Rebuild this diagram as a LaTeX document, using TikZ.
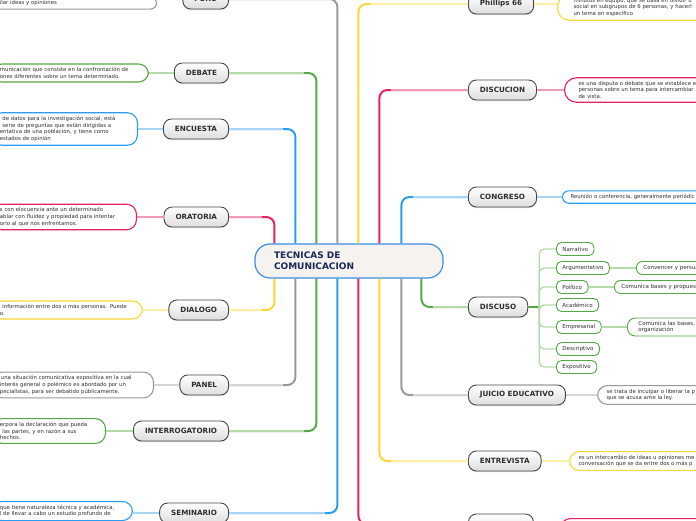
\documentclass[tikz,border=0pt]{standalone}
\usepackage{fontspec}
\setmainfont{DejaVu Sans}
\usetikzlibrary{calc,shadows}
\definecolor{cpink}{HTML}{E4235F}
\definecolor{lpink}{HTML}{F39ABA}
\definecolor{cblue}{HTML}{2A9DF0}
\definecolor{lblue}{HTML}{A8D4F7}
\definecolor{cgreen}{HTML}{55A845}
\definecolor{lgreen}{HTML}{B3DAA8}
\definecolor{cgray}{HTML}{999999}
\definecolor{lgray}{HTML}{D6D6D6}
\definecolor{cyel}{HTML}{FCD734}
\definecolor{lyel}{HTML}{FCEFA6}
\definecolor{navy}{HTML}{1B2A55}
\definecolor{txt}{HTML}{2E2E2E}
\definecolor{cborder}{HTML}{3A8EE0}
\definecolor{cfill}{HTML}{F5F2F0}
\newcommand\tcbranch[7]{%
  \draw[trunk,#4,rounded corners=8pt] ($(c.#1 west)+(#2,0)$) |- (#3.#6);
  \draw[trunk,#5] ($(c.#1 west |- #3.#6)+(#2#7,0)$) -- (#3.#6);
}
\tikzset{
  trunk/.style={line width=2pt},
  twig/.style={line width=1.5pt},
  topic/.style={rounded corners=8pt, draw=black!72, line width=0.9pt,
    top color=white, bottom color=black!13, minimum height=20pt,
    inner xsep=11.5pt, inner ysep=0pt, text=txt,
    font=\fontsize{7.2}{8}\selectfont\bfseries,
    drop shadow={shadow xshift=0pt, shadow yshift=-1pt, opacity=0.3}},
  desc/.style={rounded corners=10pt, fill=white, line width=1.1pt,
    inner ysep=3.5pt, align=left, text=txt,
    font=\fontsize{5.35}{6.7}\selectfont},
  ldesc/.style={desc, anchor=east, inner xsep=8pt},
  rdesc/.style={desc, anchor=west, text width=200pt},
  kid/.style={rounded corners=5pt, draw=cgreen, line width=0.9pt, fill=white,
    inner xsep=6pt, inner ysep=0pt, minimum height=13pt, anchor=west,
    text=txt, font=\fontsize{5.5}{6.7}\selectfont},
}
\begin{document}
\begin{tikzpicture}[x=1pt,y=1pt]
\useasboundingbox (0,0) rectangle (696,-520);
\clip (0,0) rectangle (696,-520);
% central node
\node[rounded corners=15pt, draw=cborder, fill=cfill, line width=1.2pt,
  text width=150pt, inner xsep=19pt, minimum height=34pt, align=left,
  text=navy, font=\fontsize{9}{11}\selectfont\bfseries] (c) at (349,-261)
  {TECNICAS DE\\COMUNICACION};
% left topics
\node[topic, anchor=east] (foro) at (229,1) {FORO};
\node[topic, anchor=east] (debate) at (229,-73) {DEBATE};
\node[topic, anchor=east] (encuesta) at (229,-129) {ENCUESTA};
\node[topic, anchor=east] (oratoria) at (229,-217) {ORATORIA};
\node[topic, anchor=east] (dialogo) at (229,-310) {DIALOGO};
\node[topic, anchor=east] (panel) at (229,-385) {PANEL};
\node[topic, anchor=east] (interrog) at (229,-431) {INTERROGATORIO};
\node[topic, anchor=east] (seminario) at (229,-513) {SEMINARIO};
% right topics
\node[topic, anchor=west] (phillips) at (468,-4) {Phillips 66};
\node[topic, anchor=west] (discucion) at (468,-90) {DISCUCION};
\node[topic, anchor=west] (congreso) at (468,-197) {CONGRESO};
\node[topic, anchor=west] (discuso) at (468,-307) {DISCUSO};
\node[topic, anchor=west] (juicio) at (468,-395) {JUICIO EDUCATIVO};
\node[topic, anchor=west] (entrevista) at (468,-461) {ENTREVISTA};
\node[topic, anchor=west, minimum width=65pt] (ultimo) at (468,-524) {};
% left descriptions
\node[ldesc, draw=cgray, text width=148.5pt, rounded corners=6pt] (foroD) at (157,-3)
  {\mbox{ilar ideas y opiniones}};
\node[ldesc, draw=cgreen, text width=140.5pt] (debateD) at (149,-73)
  {\mbox{municación que consiste en la confrontación de}\\\mbox{ones diferentes sobre un tema determinado.}};
\node[ldesc, draw=cblue, text width=129.5pt] (encuestaD) at (138,-129)
  {\mbox{\hspace{2.5pt}de datos para la investigación social, está}\\\mbox{\hspace{2.5pt}serie de preguntas que están dirigidas a}\\\mbox{entativa de una población, y tiene como}\\\mbox{estados de opinión}};
\node[ldesc, draw=cpink, text width=128.5pt] (oratoriaD) at (137,-217)
  {\mbox{s con elocuencia ante un determinado}\\\mbox{ablar con fluidez y propiedad para intentar}\\\mbox{orio al que nos enfrentamos.}};
\node[ldesc, draw=cyel, text width=134.5pt] (dialogoD) at (143,-310)
  {\mbox{\hspace{2.5pt}información entre dos o más personas. Puede}\\\mbox{o.}};
\node[ldesc, draw=cgray, text width=145.5pt] (panelD) at (154,-385)
  {\mbox{\hspace{1pt}una situación comunicativa expositiva en la cual}\\\mbox{interés general o polémico es abordado por un}\\\mbox{pecialistas, para ser debatido públicamente.}};
\node[ldesc, draw=cgreen, text width=97.5pt] (interrogD) at (106,-431)
  {\mbox{erpora la declaración que pueda}\\\mbox{\hspace{2.5pt}las partes, y en razón a sus}\\\mbox{hechos.}};
\node[ldesc, draw=cblue, text width=124.5pt] (seminarioD) at (133,-511)
  {\mbox{que tiene naturaleza técnica y académica,}\\\mbox{l de llevar a cabo un estudio profundo de}};
% right descriptions
\node[rdesc, draw=cyel, inner xsep=16pt, rounded corners=12pt] (phillipsD) at (557,-7.5)
  {\mbox{minutos en equipo, que se basa en dividir u}\\\mbox{social en subgrupos de 6 personas, y hacerl}\\\mbox{un tema en específico}};
\node[rdesc, draw=cpink, inner xsep=14pt, rounded corners=12pt] (discucionD) at (564,-90)
  {\mbox{es una disputa o debate que se establece e}\\\mbox{personas sobre un tema para intercambiar}\\\mbox{de vista.}};
\node[rdesc, draw=cblue, inner xsep=8pt, rounded corners=6pt] (congresoD) at (562,-197)
  {\mbox{Reunión o conferencia, generalmente periódic}};
\node[rdesc, draw=cgray, inner xsep=9pt] (juicioD) at (597,-395)
  {\mbox{se trata de inculpar o liberar la p}\\\mbox{que se acusa ante la ley.}};
\node[rdesc, draw=cyel, inner xsep=9pt] (entrevistaD) at (569,-461)
  {\mbox{es un intercambio de ideas u opiniones me}\\\mbox{conversación que se da entre dos o más p}};
\node[rdesc, draw=cpink, anchor=north west, minimum height=24pt] (ultimoD) at (560,-518) {};
% DISCUSO children
\node[kid] (narr) at (556,-249) {Narrativo};
\node[kid] (argu) at (556,-268) {Argumentativo};
\node[kid] (poli) at (556,-287) {Político};
\node[kid] (acad) at (556,-305) {Académico};
\node[kid] (empr) at (556,-327) {Empresarial};
\node[kid] (descr) at (556,-349) {Descriptivo};
\node[kid] (expo) at (556,-367) {Expositivo};
\node[kid, inner xsep=7pt, text width=80pt, align=left, rounded corners=6pt] (conv) at (636,-268) {Convencer y persua};
\node[kid, inner xsep=7pt, text width=100pt, align=left, rounded corners=6pt] (comb) at (614,-287) {Comunica bases y propuest};
\node[kid, inner xsep=11pt, inner ysep=3pt, text width=80pt, align=left, rounded corners=8pt] (coml) at (627,-327) {Comunica las bases,\\organización};
% trunks from central node
\tcbranch{north}{20}{oratoria}{cpink}{lpink}{east}{-12}
\tcbranch{north}{41}{encuesta}{cblue}{lblue}{east}{-12}
\tcbranch{north}{62}{debate}{cgreen}{lgreen}{east}{-12}
\tcbranch{north}{83}{foro}{cgray}{lgray}{east}{-12}
\tcbranch{north}{104}{phillips}{cyel}{lyel}{west}{+12}
\tcbranch{north}{125}{discucion}{cpink}{lpink}{west}{+12}
\tcbranch{north}{147}{congreso}{cblue}{lblue}{west}{+12}
\tcbranch{south}{20}{dialogo}{cyel}{lyel}{east}{-12}
\tcbranch{south}{41}{panel}{cgray}{lgray}{east}{-12}
\tcbranch{south}{62}{interrog}{cgreen}{lgreen}{east}{-12}
\tcbranch{south}{83}{seminario}{cblue}{lblue}{east}{-12}
\tcbranch{south}{104}{ultimo}{cpink}{lpink}{west}{+12}
\tcbranch{south}{125}{entrevista}{cyel}{lyel}{west}{+12}
\tcbranch{south}{147}{juicio}{cgray}{lgray}{west}{+12}
\tcbranch{south}{167}{discuso}{cgreen}{lgreen}{west}{+12}
% topic to description
\draw[twig,lgray] (foro.west) -- (foro.west -| foroD.east);
\draw[twig,lgreen] (debate.west) -- (debate.west -| debateD.east);
\draw[twig,lblue] (encuesta.west) -- (encuesta.west -| encuestaD.east);
\draw[twig,lpink] (oratoria.west) -- (oratoria.west -| oratoriaD.east);
\draw[twig,lyel] (dialogo.west) -- (dialogo.west -| dialogoD.east);
\draw[twig,lgray] (panel.west) -- (panel.west -| panelD.east);
\draw[twig,lgreen] (interrog.west) -- (interrog.west -| interrogD.east);
\draw[twig,lblue] (seminario.west) -- (seminario.west -| seminarioD.east);
\draw[twig,lyel] (phillips.east) -- (phillips.east -| phillipsD.west);
\draw[twig,lpink] (discucion.east) -- (discucion.east -| discucionD.west);
\draw[twig,lblue] (congreso.east) -- (congreso.east -| congresoD.west);
\draw[twig,lgray] (juicio.east) -- (juicio.east -| juicioD.west);
\draw[twig,lyel] (entrevista.east) -- (entrevista.east -| entrevistaD.west);
% DISCUSO tree
\coordinate (dk) at ($(discuso.east)+(11,0)$);
\draw[cgreen, line width=2.5pt] (discuso.east) -- (dk);
\foreach \k in {narr,argu,poli,acad,empr,descr,expo}
  \draw[lgreen, line width=1.3pt, rounded corners=5pt] (dk) |- (\k.west);
\draw[twig,lgreen] (argu.east) -- (conv.west);
\draw[twig,lgreen] (poli.east) -- (comb.west);
\draw[twig,lgreen] (empr.east) -- (coml.west);
\end{tikzpicture}
\end{document}
